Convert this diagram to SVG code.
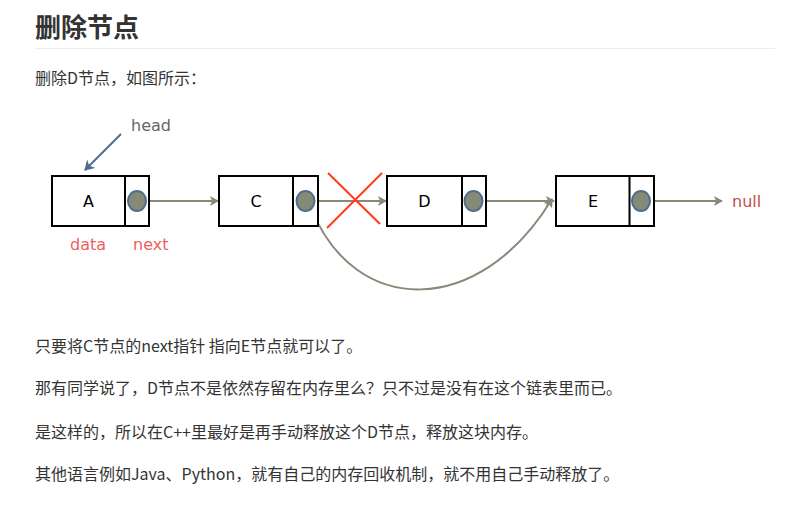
<svg xmlns="http://www.w3.org/2000/svg" width="807" height="512" viewBox="0 0 807 512">
<style>
.t{font-family:"Noto Sans CJK SC","Liberation Sans",sans-serif;fill:#333;font-size:16px}
.h{font-family:"Noto Sans CJK SC","Liberation Sans",sans-serif;fill:#333;font-size:26px;font-weight:bold}
.box{fill:#fff;stroke:#000;stroke-width:2}
.dot{fill:#858a76;stroke:#4f6d8e;stroke-width:2}
.lbl{font-family:"DejaVu Sans",sans-serif;font-size:16px;fill:#000;text-anchor:middle}
.lab{font-family:"DejaVu Sans",sans-serif;font-size:16px}
.con{stroke:#878a78;stroke-width:2;fill:none}
</style>
<defs>
<marker id="ah" markerWidth="10" markerHeight="10" refX="8" refY="5" orient="auto" markerUnits="userSpaceOnUse">
<path d="M0,0 L9,5 L0,10 L2,5 Z" fill="#878a78"/>
</marker>
<marker id="bh" markerWidth="12" markerHeight="12" refX="9" refY="6" orient="auto" markerUnits="userSpaceOnUse">
<path d="M0,0 L10,6 L0,12 L3,6 Z" fill="#4f6d8e"/>
</marker>
<marker id="tail" markerWidth="10" markerHeight="10" refX="8" refY="5" orient="auto-start-reverse" markerUnits="userSpaceOnUse">
<path d="M1,1 L8,5 L1,9" fill="none" stroke="#878a78" stroke-width="1.5"/>
</marker>
</defs>
<rect width="807" height="512" fill="#fff"/>
<text class="h" x="35" y="37">删除节点</text>
<line x1="35" y1="48.5" x2="775" y2="48.5" stroke="#eaecef" stroke-width="1"/>
<text class="t" x="35" y="84">删除D节点，如图所示：</text>

<g id="connectors">
<line class="con" x1="146" y1="201" x2="218" y2="201" marker-end="url(#ah)"/>
<line class="con" x1="315" y1="201" x2="386" y2="201" marker-end="url(#ah)"/>
<line class="con" x1="483" y1="201" x2="554" y2="201" marker-end="url(#ah)"/>
<line class="con" x1="650" y1="201" x2="722" y2="201" marker-end="url(#ah)"/>
<path class="con" d="M311,208 C355,318 480,318 552,199" marker-start="url(#tail)" marker-end="url(#ah)"/>
<line x1="121" y1="134" x2="85" y2="170" stroke="#4f6d8e" stroke-width="2" marker-end="url(#bh)"/>
</g>

<g id="cross">
<line x1="328" y1="173" x2="380" y2="224" stroke="#ff3b1f" stroke-width="2"/>
<line x1="382" y1="173" x2="327" y2="228" stroke="#ff3b1f" stroke-width="2"/>
</g>

<g id="nodeA">
<rect class="box" x="52" y="176" width="97" height="50"/>
<line x1="125" y1="176" x2="125" y2="226" stroke="#000" stroke-width="2"/>
<ellipse class="dot" cx="137" cy="201" rx="9" ry="10"/>
<text class="lbl" x="88.5" y="207">A</text>
</g>
<g id="nodeC">
<rect class="box" x="219" y="176" width="99" height="50"/>
<line x1="293" y1="176" x2="293" y2="226" stroke="#000" stroke-width="2"/>
<ellipse class="dot" cx="305.5" cy="201" rx="9" ry="10"/>
<text class="lbl" x="256" y="207">C</text>
</g>
<g id="nodeD">
<rect class="box" x="387" y="176" width="99" height="50"/>
<line x1="462" y1="176" x2="462" y2="226" stroke="#000" stroke-width="2"/>
<ellipse class="dot" cx="473.5" cy="201" rx="9" ry="10"/>
<text class="lbl" x="424.5" y="207">D</text>
</g>
<g id="nodeE">
<rect class="box" x="556" y="176" width="98" height="50"/>
<line x1="629.5" y1="176" x2="629.5" y2="226" stroke="#000" stroke-width="2"/>
<ellipse class="dot" cx="641" cy="201" rx="9" ry="10"/>
<text class="lbl" x="593" y="207">E</text>
</g>

<g id="labels">
<text class="lab" x="131" y="131" fill="#666">head</text>
<text class="lab" x="70" y="250" fill="#ee5e5e">data</text>
<text class="lab" x="133" y="250" fill="#ee5e5e">next</text>
<text class="lab" x="732" y="207" fill="#c0504d">null</text>
</g>

<text class="t" x="35" y="352">只要将C节点的next指针 指向E节点就可以了。</text>
<text class="t" x="35" y="394">那有同学说了，D节点不是依然存留在内存里么？只不过是没有在这个链表里而已。</text>
<text class="t" x="35" y="438">是这样的，所以在C++里最好是再手动释放这个D节点，释放这块内存。</text>
<text class="t" x="35" y="480">其他语言例如Java、Python，就有自己的内存回收机制，就不用自己手动释放了。</text>
</svg>
